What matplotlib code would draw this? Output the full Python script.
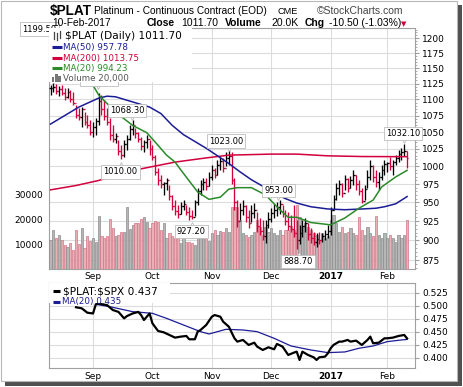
import numpy as np
import pandas as pd
import matplotlib
matplotlib.use("Agg")
import matplotlib.pyplot as plt
from matplotlib.patches import Rectangle
from matplotlib.ticker import FixedLocator, NullFormatter
from matplotlib.transforms import offset_copy

W, H = 464, 387

# trading days shown on the chart
holidays = pd.to_datetime(['2016-09-05', '2016-11-24', '2016-12-26', '2017-01-02', '2017-01-16'])
dates = pd.bdate_range('2016-08-11', '2017-02-10')
dates = dates[~dates.isin(holidays)]

high = [1123, 1126, 1124, 1121, 1123, 1118, 1118, 1115, 1111, 1091,
        1087, 1088, 1080, 1076, 1068, 1065, 1071, 1110.5, 1107, 1099,
        1087, 1071, 1060, 1049, 1038, 1031, 1038, 1045, 1060, 1068.3,
        1056, 1050, 1042, 1038, 1045, 1038, 1031, 1016, 997, 988,
        978, 983, 974, 960, 953, 946, 950, 953, 946, 943,
        940, 953, 970, 981, 983, 983, 992, 1002, 997, 1009,
        1013, 1012, 1020, 1023, 1020, 983, 953, 949, 953, 946,
        940, 946, 949, 937, 929, 926, 926, 937, 942, 948,
        950, 953, 946, 940, 937, 933, 946, 926, 920, 926,
        929, 923, 916.5, 911, 909, 911, 909, 913, 920, 943.5,
        960, 977, 981, 977, 988, 983, 986, 995, 988, 981,
        970, 974, 995, 1009, 1002, 995, 992, 1002, 1009, 1006,
        1013, 1009, 1016, 1023, 1026, 1032.1, 1022]
low = [1107, 1111, 1109, 1105, 1107, 1099, 1102, 1096, 1091, 1071,
       1068, 1057, 1060, 1056, 1045, 1042, 1045, 1060, 1076, 1068,
       1060, 1038, 1035, 1034, 1016, 1010, 1014, 1023, 1038, 1045,
       1041, 1035, 1023, 1020, 1026, 1016, 1009, 988, 974, 970,
       960, 967, 953, 940, 933, 929, 934.5, 940, 933, 926,
       927.2, 932, 946, 960, 967, 967, 972, 981, 983, 988,
       995, 992, 1000, 1002, 975, 940, 917.5, 926, 933, 924,
       916.5, 924, 929, 911, 907, 900, 896, 916.5, 924, 929,
       932, 934.5, 930.5, 920, 913, 911, 904, 888.7, 895, 904,
       911, 900, 896, 894, 891, 895, 898, 900, 903, 907,
       940, 953, 960, 957, 967, 964, 970, 974, 967, 960,
       949, 953, 970, 981, 978, 971, 967, 981, 988, 992,
       995, 988, 1002, 1006, 1009, 1015, 998]
close = [1118, 1120, 1113, 1116, 1110, 1104, 1112, 1100, 1095, 1076,
         1072, 1085, 1065, 1060, 1050, 1058, 1066, 1098, 1085, 1075,
         1065, 1045, 1040, 1044, 1022, 1016, 1032, 1040, 1055, 1060,
         1048, 1040, 1030, 1035, 1040, 1025, 1014, 992, 980, 975,
         976, 980, 958, 945, 938, 934, 945, 948, 937, 932,
         930, 950, 965, 975, 978, 972, 985, 995, 988, 1002,
         1008, 998, 1012, 1015, 980, 950, 925, 940, 945, 930,
         922, 935, 940, 918, 912, 906, 920, 928, 935, 940,
         944, 948, 935, 925, 918, 915, 910, 900, 910, 918,
         922, 908, 903, 898, 902, 900, 905, 908, 912, 940,
         955, 970, 975, 962, 982, 970, 980, 988, 975, 965,
         952, 968, 985, 1000, 985, 978, 985, 995, 1003, 1005,
         1000, 1006, 1012, 1018, 1020, 1022.2, 1011.7]
volume = [11600, 15600, 12400, 13600, 11600, 9600, 8800, 10400, 7600, 15600,
          10000, 16400, 8400, 13200, 11200, 12400, 10800, 21200, 13200, 12400,
          13200, 20000, 16400, 13200, 13600, 14800, 14800, 24800, 16000, 17600,
          18400, 18400, 20000, 20800, 18800, 16400, 18400, 19200, 18800, 15600,
          18400, 12400, 14400, 13200, 12400, 12800, 10400, 12400, 10800, 10800,
          10400, 9600, 13600, 15600, 12800, 12400, 11200, 14400, 15600, 13600,
          15200, 14800, 16400, 14800, 24800, 24800, 24800, 19600, 14400, 13600,
          12800, 13600, 14800, 19600, 16800, 13600, 16800, 14800, 16400, 14400,
          13600, 15600, 13600, 15600, 15600, 17200, 15600, 25600, 20800, 16800,
          18400, 16800, 15600, 14400, 13600, 11600, 14400, 12400, 13200, 19600,
          21600, 18400, 14800, 16800, 14400, 14800, 16400, 14400, 13600, 20800,
          15600, 13600, 16800, 14400, 13200, 21200, 13600, 12400, 14400, 12400,
          13600, 12400, 10800, 13600, 12400, 13600, 19600]

# moving averages (day index, value)
ma50_day = [0, 10, 17, 20, 23, 29, 35, 39, 43, 47, 51, 55, 59, 63, 67, 71, 75, 79,
            83, 87, 92, 98, 104, 110, 115, 118, 122, 126]
ma50_val = [1062, 1088, 1102, 1105, 1104, 1096, 1088, 1078, 1060, 1046, 1036, 1026,
            1015, 1004, 992, 981, 972, 962, 955, 949, 944, 941, 940, 941, 942, 944,
            948, 957.78]
ma200_day = [0, 9, 17, 29, 44, 55, 63, 78, 87, 98, 110, 126]
ma200_val = [967, 973, 980, 994, 1006, 1012, 1016, 1017.5, 1017.5, 1015, 1014, 1013.75]
ma20_day = [11, 14, 17, 23, 29, 34, 37, 41, 44, 46, 52, 56, 60, 63, 66, 71, 76, 81,
            84, 87, 92, 99, 104, 109, 114, 117, 122, 126]
ma20_val = [1140, 1130, 1107, 1080, 1060, 1049, 1035, 1016, 1006, 995, 964, 954, 957,
            968, 970, 970, 960, 940, 930, 930, 923, 920, 929, 942, 953, 971, 985, 994.23]

# $PLAT:$SPX ratio panel
ratio_day = [9, 11, 13, 15, 16, 17, 20, 22, 24, 26, 27, 29, 31, 32, 33, 35, 36, 38,
             40, 42, 44, 46, 48, 49, 51, 52, 53, 55, 57, 58, 60, 61, 63, 65, 66, 68,
             70, 72, 73, 75, 77, 79, 80, 82, 84, 86, 87, 88, 89, 91, 93, 94, 95, 97,
             98, 99, 100, 102, 103, 105, 106, 108, 110, 112, 113, 114, 116, 118, 119,
             121, 123, 125, 126]
ratio_val = [.497, .495, .4865, .485, .5026, .504, .501, .4917, .488, .4756, .480,
             .485, .488, .482, .4724, .485, .466, .4513, .4487, .4436, .4385, .4404,
             .4417, .4353, .4353, .450, .4532, .4628, .4788, .482, .4788, .4692,
             .4596, .4372, .4308, .434, .4244, .4288, .4212, .4147, .4199, .416,
             .4263, .4212, .4051, .4096, .4115, .3955, .4115, .4051, .4006, .3955,
             .4006, .4019, .4083, .418, .4244, .4308, .4308, .434, .4308, .4327,
             .4244, .434, .4404, .4276, .4288, .4372, .4372, .4385, .4417, .4436, .437]
ratio_ma_day = [16, 21, 29, 36, 41, 47, 53, 56, 62, 68, 73, 79, 85, 92, 98, 104, 109,
                114, 119, 124, 126]
ratio_ma_val = [.5026, .498, .4885, .4853, .4756, .4628, .45, .4455, .4545, .4532, .45,
                .4372, .4224, .4147, .4096, .4109, .418, .4224, .4308, .434, .435]

price_ticks = [875, 900, 925, 950, 975, 1000, 1025, 1050, 1075, 1100, 1125, 1150, 1175, 1200]
vol_ticks = [10000, 20000, 30000]
ratio_ticks = [0.400, 0.425, 0.450, 0.475, 0.500, 0.525]

# labelled highs / lows: (label day, label price, text, pointer day, pointer below box?)
callouts = [(17, 1131, '1110.50', 16.8, True), (27, 1083, '1068.30', 28.9, True),
            (24.7, 992, '1010.00', 24.9, False), (62, 1036.6, '1023.00', 63, True),
            (80.7, 966, '953.00', 80.4, True), (87.4, 873.6, '888.70', 87.8, False),
            (124.5, 1048, '1032.10', 124.9, True), (49.8, 911, '927.20', 50, False)]

RED = '#d2003c'
NAVY = '#1c1c96'
GREEN = '#2a8a2a'
GRID = '#dcdcdc'
SPINE = '#a0a0a0'


def fx(x):
    return x / W


def fy(y):
    return 1 - y / H


days = np.arange(len(dates))
close_a = np.array(close)
prev = np.r_[close_a[0], close_a[:-1]]
down = close_a < prev
bar_cols = np.where(down, RED, 'black')

months = dates.to_period('M')
month_pos = [i for i in range(1, len(dates)) if months[i] != months[i - 1]]
month_lab = ['2017' if dates[i].month == 1 else dates[i].strftime('%b') for i in month_pos]

fig = plt.figure(figsize=(W / 100, H / 100), dpi=100)

# frame with drop shadow
fig.patches.append(Rectangle((fx(5), fy(386)), 457 / W, 381 / H, transform=fig.transFigure,
                             fc='#505050', ec='none', zorder=-3))
fig.patches.append(Rectangle((fx(0.5), fy(380.5)), 457 / W, 380 / H, transform=fig.transFigure,
                             fc='white', ec='#b8b8b8', lw=0.8, zorder=-2))

xlim = (-0.55, 128.8)
main_rect = [fx(49), fy(269), 366 / W, 241 / H]
low_rect = [fx(49), fy(368), 366 / W, 85 / H]

# grid / price scale axes
ax_p = fig.add_axes(main_rect)
ax_v = ax_p.twinx()
ax_b = ax_p.twinx()

ax_p.set_yscale('log')
ax_p.set_xlim(*xlim)
ax_p.set_ylim(863.9, 1217.7)
ax_p.yaxis.set_major_locator(FixedLocator(price_ticks))
ax_p.yaxis.set_major_formatter(plt.FixedFormatter([str(t) for t in price_ticks]))
ax_p.yaxis.set_minor_locator(FixedLocator(np.arange(865, 1216, 5)))
ax_p.yaxis.set_minor_formatter(NullFormatter())
ax_p.set_xticks(month_pos)
ax_p.set_xticklabels(month_lab)
ax_p.grid(True, which='major', color=GRID, lw=0.8)
ax_p.tick_params(axis='x', length=0, labelsize=6.5, pad=2.5)
for s in ax_p.spines.values():
    s.set_color(SPINE)
    s.set_linewidth(0.8)

# volume
ax_v.set_ylim(0, 96400)
ax_v.bar(days, volume, width=0.78, color=np.where(down, '#eab0b8', '#b6b6b6'),
         edgecolor=np.where(down, '#d27585', '#8c8c8c'), linewidth=0.5)
ax_v.yaxis.tick_left()
ax_v.set_yticks(vol_ticks)
ax_v.set_yticklabels([str(v) for v in vol_ticks])
ax_v.tick_params(axis='y', length=0, labelsize=6.5, pad=4)
for s in ax_v.spines.values():
    s.set_visible(False)

# price bars and averages
ax_b.set_yscale('log')
ax_b.set_ylim(863.9, 1217.7)
ax_b.yaxis.set_visible(False)
for s in ax_b.spines.values():
    s.set_visible(False)
opens = prev
ax_b.vlines(days, low, high, colors=bar_cols, lw=0.95)
ax_b.hlines(opens, days - 0.5, days, colors=bar_cols, lw=0.95)
ax_b.hlines(close, days, days + 0.5, colors=bar_cols, lw=0.95)
ax_b.plot(ma200_day, ma200_val, color=RED, lw=1.1)
ax_b.plot(ma50_day, ma50_val, color=NAVY, lw=1.1)
ax_b.plot(ma20_day, ma20_val, color=GREEN, lw=1.1)

box = dict(boxstyle='square,pad=0.25', fc='white', ec='#bdbdbd', lw=0.6)
below = offset_copy(ax_b.transData, fig=fig, y=-6.5, units='dots')
above = offset_copy(ax_b.transData, fig=fig, y=6.5, units='dots')
for d, p, t, pd_, under in callouts:
    ax_b.text(d, p, t, ha='center', va='center', fontsize=6, family='DejaVu Sans',
              bbox=box, zorder=6)
    ax_b.plot(pd_, p, marker='v' if under else '^', ms=5, mfc='white', mec='#bdbdbd',
              mew=0.6, transform=below if under else above, zorder=5.5)


def ax_x(px):
    return (px - 49) / 366


def ax_y(py):
    return (269 - py) / 241


ax_b.text(ax_x(39.5), ax_y(29), '1199.50', transform=ax_b.transAxes, ha='center', va='center',
          fontsize=6, bbox=box, zorder=7, clip_on=False)
ax_b.add_patch(Rectangle((0, ax_y(82)), ax_x(192), ax_y(28) - ax_y(82), transform=ax_b.transAxes,
                         fc='white', ec='none', zorder=8))
legend_rows = [(36, '$PLAT (Daily) 1011.70', 'black', 7.6),
               (47, 'MA(50) 957.78', NAVY, 6.3),
               (58, 'MA(200) 1013.75', RED, 6.3),
               (68, 'MA(20) 994.23', GREEN, 6.3),
               (78, 'Volume 20,000', '#555555', 6.3)]
for py, txt, col, fs in legend_rows:
    ax_b.text(ax_x(65 if fs > 7 else 63), ax_y(py), txt, transform=ax_b.transAxes, va='center',
              color=col, fontsize=fs, zorder=9, parse_math=False)
for py, col in [(47, NAVY), (58, RED), (68, GREEN)]:
    ax_b.plot([ax_x(52), ax_x(62)], [ax_y(py)] * 2, transform=ax_b.transAxes, color=col, lw=2.2,
              solid_capstyle='butt', zorder=9, clip_on=False)
for k, (top, bot) in enumerate([(32, 39), (33, 40), (31, 38)]):
    xx = ax_x(54 + 3 * k)
    ax_b.plot([xx, xx], [ax_y(top), ax_y(bot)], transform=ax_b.transAxes, color='#444444',
              lw=0.9, zorder=9)
for k, hgt in enumerate([5, 8, 6]):
    ax_b.add_patch(Rectangle((ax_x(52 + 3.2 * k), ax_y(82)), 2.4 / 366, hgt / 241,
                             transform=ax_b.transAxes, fc='#777777', ec='none', zorder=9))

ax_p.yaxis.tick_right()
ax_p.tick_params(axis='y', which='major', length=3, color=SPINE, labelsize=6.5, pad=2)
ax_p.tick_params(axis='y', which='minor', length=1.5, color=SPINE)

# ratio panel
ax_r = fig.add_axes(low_rect)
ax_r.set_xlim(*xlim)
ax_r.set_ylim(0.380, 0.5437)
ax_r.yaxis.tick_right()
ax_r.set_yticks(ratio_ticks)
ax_r.set_yticklabels(['%.3f' % t for t in ratio_ticks])
ax_r.set_xticks(month_pos)
ax_r.set_xticklabels(month_lab)
ax_r.grid(True, color=GRID, lw=0.8)
ax_r.tick_params(axis='x', length=0, labelsize=6.5, pad=3)
ax_r.tick_params(axis='y', length=3, color=SPINE, labelsize=6.5, pad=2)
for s in ax_r.spines.values():
    s.set_color(SPINE)
    s.set_linewidth(0.8)
ax_r.plot(ratio_ma_day, ratio_ma_val, color=NAVY, lw=0.9)
ax_r.plot(ratio_day, ratio_val, color='black', lw=1.6)


def r_x(px):
    return (px - 49) / 366


def r_y(py):
    return (368 - py) / 85


ax_r.add_patch(Rectangle((0, r_y(303)), r_x(170), r_y(283) - r_y(303), transform=ax_r.transAxes,
                         fc='white', ec='none', zorder=8))
ax_r.text(r_x(63), r_y(291), '$PLAT:$SPX 0.437', transform=ax_r.transAxes, va='center',
          fontsize=7.6, zorder=9, parse_math=False)
ax_r.text(r_x(62), r_y(301.5), 'MA(20) 0.435', transform=ax_r.transAxes, va='center',
          fontsize=6.3, color=NAVY, zorder=9)
ax_r.plot([r_x(53), r_x(60)], [r_y(291)] * 2, transform=ax_r.transAxes, color='black', lw=2.2,
          solid_capstyle='butt', zorder=9)
ax_r.plot([r_x(53), r_x(60)], [r_y(301.5)] * 2, transform=ax_r.transAxes, color=NAVY, lw=2.2,
          solid_capstyle='butt', zorder=9)

for axx in (ax_p, ax_r):
    for lab in axx.get_xticklabels():
        if lab.get_text() == '2017':
            lab.set_fontweight('bold')

# header
sans = 'Liberation Sans'
fig.text(fx(50), fy(15), '$PLAT', fontsize=9.8, fontweight='bold', family=sans, parse_math=False)
fig.text(fx(94), fy(14), 'Platinum - Continuous Contract (EOD)', fontsize=7.3, family=sans)
fig.text(fx(278), fy(14), 'CME', fontsize=6.6, family=sans)
fig.text(fx(317), fy(14), '\u00a9StockCharts.com', fontsize=7.5, family=sans, color='#444444')
fig.text(fx(52), fy(26), '10-Feb-2017', fontsize=7.4, family=sans)
line2 = [(147, 'Close', 'bold'), (181.5, '1011.70', 'normal'), (225, 'Volume', 'bold'),
         (271, '20.0K', 'normal'), (305, 'Chg', 'bold'), (329, '-10.50 (-1.03%)', 'normal')]
for px, txt, wt in line2:
    fig.text(fx(px), fy(26), txt, fontsize=7.5, fontweight=wt, family=sans)
fig.text(fx(401), fy(26), '\u25bc', fontsize=5, color=RED, family='DejaVu Sans')

fig.savefig('out.png', dpi=100)
